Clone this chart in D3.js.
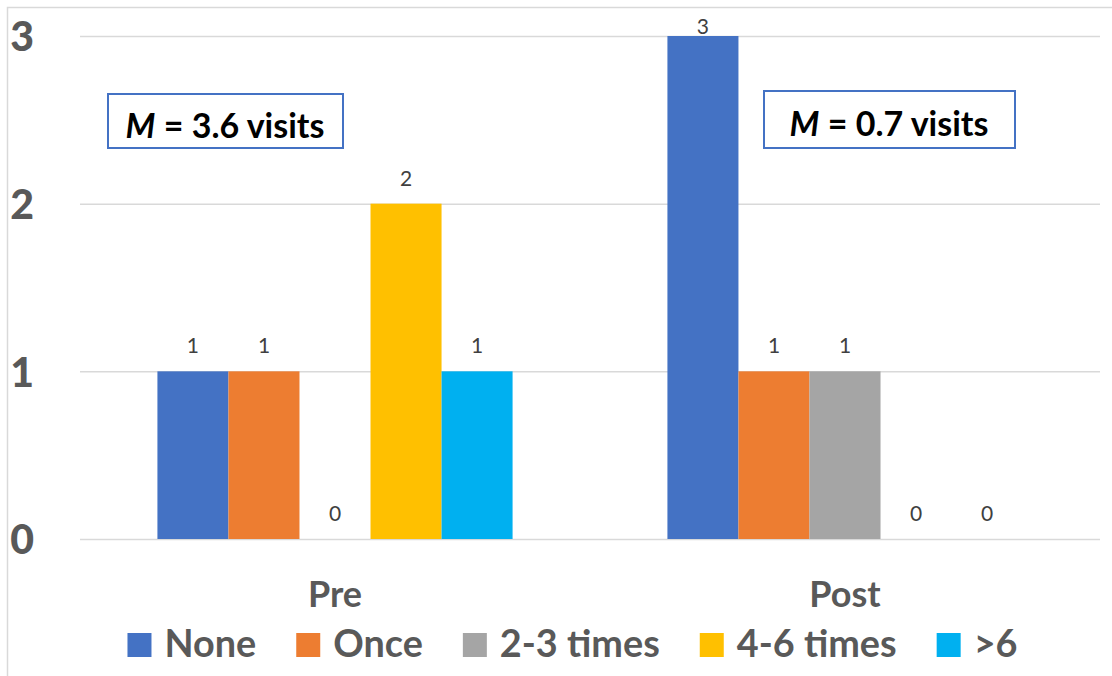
<!DOCTYPE html>
<html>
<head>
<meta charset="utf-8">
<script src="https://cdn.jsdelivr.net/npm/d3@7"></script>
<style>
  html, body { margin: 0; padding: 0; background: #fff; }
  svg { display: block; }
  text { font-family: Lato, "Open Sans", sans-serif; }
</style>
</head>
<body>
<svg id="chart" width="1112" height="676"></svg>
<script>
// ---- data ----
const categories = ["Pre", "Post"];
const seriesNames = ["None", "Once", "2-3 times", "4-6 times", ">6"];
const seriesColors = ["#4472C4", "#ED7D31", "#A5A5A5", "#FFC000", "#00B0F0"];
const preValues = [1, 1, 0, 2, 1];
const postValues = [3, 1, 1, 0, 0];
const yTicks = [0, 1, 2, 3];
const meanLabels = ["3.6 visits", "0.7 visits"];

const values = [preValues, postValues];

const svg = d3.select("#chart");
const W = 1112, H = 676;

// chart border (cropped on right & bottom)
svg.append("rect")
  .attr("x", 7.5).attr("y", 7.5)
  .attr("width", W + 20).attr("height", H + 20)
  .attr("fill", "none").attr("stroke", "#D9D9D9").attr("stroke-width", 1.5);

const plotLeft = 80, plotRight = 1100;
const y = d3.scaleLinear().domain([0, 3]).range([539, 36]);
const x0 = d3.scaleBand().domain(categories).range([plotLeft, plotRight]).padding(0);
const x1 = d3.scaleBand().domain(seriesNames).range([0, x0.bandwidth()])
  .paddingInner(0).paddingOuter(1.09);
const color = d3.scaleOrdinal().domain(seriesNames).range(seriesColors);

// gridlines
const grid = svg.append("g")
  .attr("transform", `translate(${plotLeft},0)`)
  .call(d3.axisLeft(y).tickValues(yTicks).tickSize(-(plotRight - plotLeft)).tickFormat(""));
grid.select(".domain").remove();
grid.selectAll(".tick line").attr("stroke", "#D9D9D9").attr("stroke-width", 1.5);

// y labels
const yAx = svg.append("g")
  .attr("transform", `translate(34,0)`)
  .call(d3.axisLeft(y).tickValues(yTicks).tickSize(0).tickPadding(0).tickFormat(d3.format("d")));
yAx.select(".domain").remove();
yAx.selectAll(".tick text")
  .attr("font-family", "Lato, sans-serif")
  .attr("font-size", 41).attr("font-weight", 900).attr("fill", "#595959")
  .attr("text-anchor", "end").attr("dy", "0.36em");

// bars
const groups = svg.append("g").selectAll("g")
  .data(categories.map((c, i) => ({ cat: c, vals: values[i] })))
  .join("g")
  .attr("transform", d => `translate(${x0(d.cat)},0)`);

groups.selectAll("rect")
  .data(d => d.vals.map((v, j) => ({ name: seriesNames[j], v })))
  .join("rect")
  .attr("x", d => x1(d.name))
  .attr("width", x1.bandwidth())
  .attr("y", d => y(d.v))
  .attr("height", d => y(0) - y(d.v))
  .attr("fill", d => color(d.name));

groups.selectAll("text.val")
  .data(d => d.vals.map((v, j) => ({ name: seriesNames[j], v })))
  .join("text")
  .attr("class", "val")
  .attr("x", d => x1(d.name) + x1.bandwidth() / 2)
  .attr("y", d => Math.max(y(d.v) - 18, y(3) - 2))
  .attr("text-anchor", "middle")
  .attr("font-size", 21).attr("fill", "#404040")
  .text(d => d.v);

// category labels
const xAx = svg.append("g")
  .attr("transform", `translate(0,${y(0)})`)
  .call(d3.axisBottom(x0).tickSize(0).tickPadding(0));
xAx.select(".domain").remove();
xAx.selectAll(".tick text")
  .attr("font-family", "Lato, sans-serif")
  .attr("font-size", 36).attr("font-weight", 700).attr("fill", "#595959")
  .attr("dy", null).attr("y", 68);

// mean annotation boxes
const boxes = [
  { x: 108, y: 94, w: 235, h: 54, tx: 225, ty: 138 },
  { x: 764, y: 91, w: 251, h: 57, tx: 889, ty: 136 }
];
boxes.forEach((b, i) => {
  svg.append("rect").attr("x", b.x).attr("y", b.y).attr("width", b.w).attr("height", b.h)
    .attr("fill", "#fff").attr("stroke", "#4472C4").attr("stroke-width", 2);
  const t = svg.append("text").attr("x", b.tx).attr("y", b.ty)
    .attr("text-anchor", "middle").attr("font-size", 34).attr("font-weight", 700).attr("fill", "#000");
  t.append("tspan").attr("font-style", "italic").text("M");
  t.append("tspan").text(" = " + meanLabels[i]);
});

// legend
const legend = svg.append("g");
const items = legend.selectAll("g").data(seriesNames).join("g");
items.append("rect").attr("width", 24).attr("height", 24).attr("y", 633)
  .attr("fill", d => color(d));
items.append("text").attr("x", 37).attr("y", 657)
  .attr("font-size", 37.8).attr("font-weight", 700).attr("fill", "#595959")
  .text(d => d);
let cx = 0;
const offs = [];
items.each(function () {
  const tw = d3.select(this).select("text").node().getComputedTextLength();
  offs.push(cx);
  cx += 37 + tw + 40;
});
const total = cx - 40;
const start = 572.5 - total / 2;
items.attr("transform", (d, i) => `translate(${start + offs[i]},0)`);
</script>
</body>
</html>
